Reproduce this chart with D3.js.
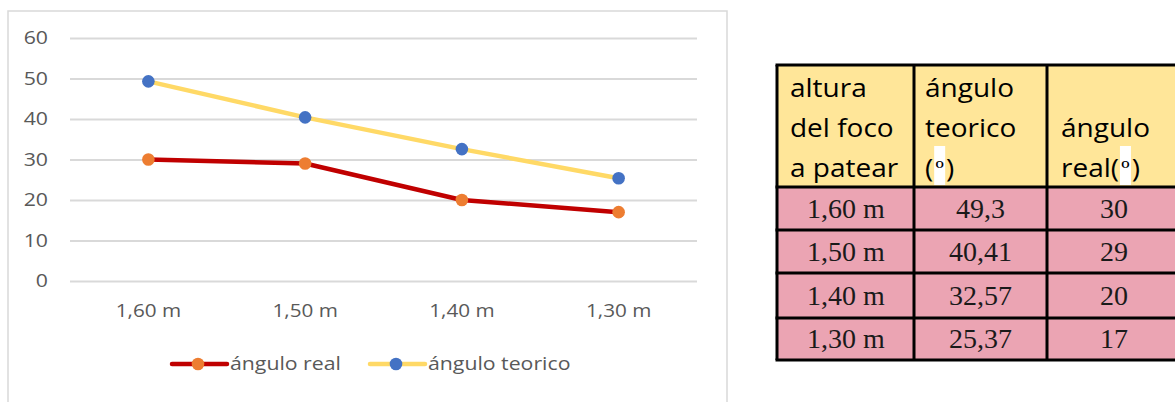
<!DOCTYPE html>
<html>
<head>
<meta charset="utf-8">
<script src="https://cdn.jsdelivr.net/npm/d3@7"></script>
<style>
  html, body { margin: 0; padding: 0; background: #fff; }
  svg { display: block; }
</style>
</head>
<body>
<svg id="fig" width="1175" height="402"></svg>
<script>
// Kick height categories and measured angles (degrees)
const categories = ["1,60 m", "1,50 m", "1,40 m", "1,30 m"];
const anguloTeorico = [49.3, 40.41, 32.57, 25.37];
const anguloReal = [30, 29, 20, 17];
const teoricoLabels = ["49,3", "40,41", "32,57", "25,37"];
const realLabels = ["30", "29", "20", "17"];
const yTicks = [0, 10, 20, 30, 40, 50, 60];
const seriesNames = ["ángulo real", "ángulo teorico"];
const headerLines = [
  ["altura", "del foco", "a patear"],
  ["ángulo", "teorico", "(º)"],
  ["", "ángulo", "real(º)"]
];

const SANS = "'Open Sans', 'Liberation Sans', sans-serif";
const SERIF = "'Liberation Serif', 'DejaVu Serif', serif";
const SX = 1.15;   // horizontal stretch of chart text
const SXH = 1.12;  // horizontal stretch of table header text

const svg = d3.select("#fig");

// horizontally stretch a text element around its own anchor point
function stretch(sel, k) {
  sel.each(function () {
    const t = d3.select(this);
    const x = +t.attr("x") || 0;
    t.attr("x", x / k).attr("transform", `scale(${k},1)`);
  });
}

// ---------- chart panel ----------
svg.append("rect")
  .attr("x", 8).attr("y", 11).attr("width", 719).attr("height", 400)
  .attr("fill", "#fff").attr("stroke", "#d9d9d9").attr("stroke-width", 1.5);

const x = d3.scaleBand().domain(categories).range([70, 697]);
const y = d3.scaleLinear().domain([0, 60]).range([281, 38]);

// gridlines + y labels
const yAxis = svg.append("g").attr("transform", "translate(70,0)")
  .call(d3.axisLeft(y).tickValues(yTicks).tickSize(-627).tickPadding(22));
yAxis.select(".domain").remove();
yAxis.selectAll(".tick line").attr("stroke", "#d9d9d9").attr("stroke-width", 1.8);
yAxis.selectAll(".tick text")
  .attr("fill", "#595959").attr("font-family", SANS).attr("font-size", 18.5)
  .call(stretch, SX);

// category labels
const xAxis = svg.append("g").attr("transform", "translate(0,281)")
  .call(d3.axisBottom(x).tickSize(0).tickPadding(23));
xAxis.select(".domain").remove();
xAxis.selectAll(".tick text")
  .attr("fill", "#595959").attr("font-family", SANS).attr("font-size", 18)
  .call(stretch, SX);

const cx = (d, i) => x(categories[i]) + x.bandwidth() / 2;
const line = d3.line().x((d, i) => cx(d, i)).y(d => y(d));

const series = [
  { name: seriesNames[0], values: anguloReal, line: "#c00000", marker: "#ed7d31" },
  { name: seriesNames[1], values: anguloTeorico, line: "#ffd966", marker: "#4472c4" }
];

series.forEach(s => {
  svg.append("path").datum(s.values)
    .attr("d", line).attr("fill", "none")
    .attr("stroke", s.line).attr("stroke-width", 4.5)
    .attr("stroke-linejoin", "round").attr("stroke-linecap", "round");
});
series.forEach(s => {
  svg.append("g").selectAll("circle").data(s.values).join("circle")
    .attr("cx", cx).attr("cy", d => y(d)).attr("r", 6.3)
    .attr("fill", s.marker);
});

// legend
const legendPos = [172, 370];
series.forEach((s, i) => {
  const g = svg.append("g").attr("transform", `translate(${legendPos[i]},364)`);
  g.append("line").attr("x1", 0).attr("x2", 55).attr("y1", 0).attr("y2", 0)
    .attr("stroke", s.line).attr("stroke-width", 4.5).attr("stroke-linecap", "round");
  g.append("circle").attr("cx", 26).attr("cy", 0).attr("r", 6.3).attr("fill", s.marker);
  g.append("text").attr("x", 58).attr("y", 0).attr("dy", "0.35em")
    .attr("fill", "#595959").attr("font-family", SANS).attr("font-size", 18.5)
    .text(s.name).call(stretch, SX);
});

// ---------- data table ----------
const colX = [777, 914, 1047, 1185];
const rowY = [65, 187, 230, 273, 318, 360];
const tbl = svg.append("g");

// cell fills
for (let c = 0; c < 3; c++) {
  tbl.append("rect").attr("x", colX[c]).attr("y", rowY[0])
    .attr("width", colX[c + 1] - colX[c]).attr("height", rowY[1] - rowY[0])
    .attr("fill", "#ffe699");
  for (let r = 1; r < 5; r++) {
    tbl.append("rect").attr("x", colX[c]).attr("y", rowY[r])
      .attr("width", colX[c + 1] - colX[c]).attr("height", rowY[r + 1] - rowY[r])
      .attr("fill", "#eba4b3");
  }
}

// header text; the degree sign sits on a small white highlight
const headPad = [13, 11, 14];
const baseLines = [97, 137, 177];
headerLines.forEach((lines, c) => {
  lines.forEach((txt, k) => {
    if (!txt) return;
    const t = tbl.append("text")
      .attr("x", colX[c] + headPad[c]).attr("y", baseLines[k])
      .attr("font-family", SANS).attr("font-size", 25).attr("fill", "#000");
    const parts = txt.split("º");
    t.append("tspan").text(parts[0]);
    if (parts.length > 1) {
      t.append("tspan").attr("class", "deg")
        .attr("font-family", SERIF).attr("font-size", 24).attr("dx", 2).text("º");
      t.append("tspan").attr("dx", 2).text(parts[1]);
    }
    t.call(stretch, SXH);
  });
});
tbl.selectAll("text").each(function () {
  const node = this;
  if (d3.select(node).select("tspan.deg").empty()) return;
  const idx = node.textContent.indexOf("º");
  const ext = node.getExtentOfChar(idx);
  const mid = (ext.x + ext.width / 2) * SXH;
  d3.select(node.parentNode).insert("rect", () => node)
    .attr("x", mid - 5.5).attr("y", +d3.select(node).attr("y") - 31)
    .attr("width", 11).attr("height", 39)
    .attr("fill", "#fff");
});

// body text
const bodyBase = [218, 261, 305, 348];
const colCenter = [846, 980.5, 1114];
const bodyCols = [categories, teoricoLabels, realLabels];
bodyCols.forEach((vals, c) => {
  vals.forEach((v, r) => {
    tbl.append("text")
      .attr("x", colCenter[c]).attr("y", bodyBase[r])
      .attr("text-anchor", "middle")
      .attr("font-family", SERIF).attr("font-size", 28).attr("fill", "#1a1a1a")
      .text(v);
  });
});

// table rules
const B = 3;
rowY.forEach(yy => {
  tbl.append("line").attr("x1", colX[0] - B / 2).attr("x2", 1175)
    .attr("y1", yy).attr("y2", yy).attr("stroke", "#000").attr("stroke-width", B);
});
colX.slice(0, 3).forEach(xx => {
  tbl.append("line").attr("x1", xx).attr("x2", xx)
    .attr("y1", rowY[0]).attr("y2", rowY[5]).attr("stroke", "#000").attr("stroke-width", B);
});
</script>
</body>
</html>
